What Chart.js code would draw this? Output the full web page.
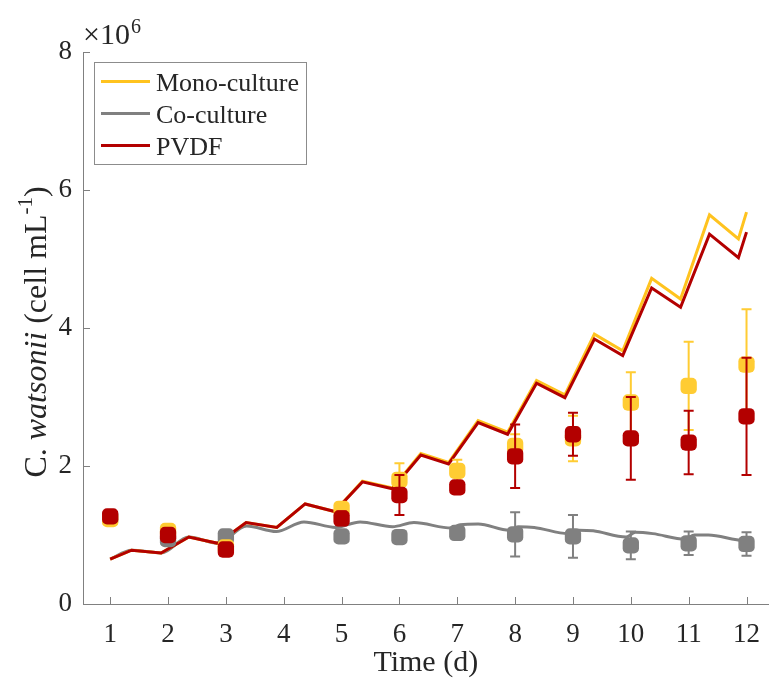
<!DOCTYPE html>
<html>
<head>
<meta charset="utf-8">
<script src="https://cdn.jsdelivr.net/npm/chart.js@4.4.0/dist/chart.umd.min.js"></script>
<style>
  html, body { margin: 0; padding: 0; background: #fff; }
  #wrap { width: 778px; height: 681px; }
</style>
</head>
<body>
<div id="wrap"><canvas id="growthChart" width="778" height="681"></canvas></div>
<script>
// All cell counts in units of 10^6 cell mL-1
const sampleDays = [1, 2, 3, 5, 6, 7, 8, 9, 10, 11, 12];
const monoMean = [1.23, 1.06, 0.82, 1.38, 1.80, 1.93, 2.29, 2.40, 2.92, 3.16, 3.47];
const monoErr  = [0.05, 0.08, 0.05, 0.06, 0.24, 0.16, 0.17, 0.33, 0.44, 0.64, 0.80];
const coMean   = [1.25, 0.94, 0.98, 0.98, 0.97, 1.03, 1.01, 0.98, 0.85, 0.88, 0.87];
const coErr    = [0.03, 0.04, 0.05, 0.05, 0.05, 0.06, 0.32, 0.31, 0.20, 0.17, 0.17];
const pvdfMean = [1.27, 1.00, 0.79, 1.24, 1.58, 1.69, 2.14, 2.46, 2.40, 2.34, 2.72];
const pvdfErr  = [0.04, 0.06, 0.05, 0.10, 0.29, 0.08, 0.46, 0.31, 0.60, 0.46, 0.85];

// model curves (sawtooth from daily dilution)
const modelTime = [1, 1.37, 1.88, 2.36, 2.86, 3.35, 3.88, 4.37, 4.88, 5.36, 5.88, 6.37,
                   6.85, 7.36, 7.87, 8.37, 8.86, 9.37, 9.86, 10.36, 10.86, 11.36, 11.86, 12.0];
const monoModel = [0.65, 0.78, 0.74, 0.97, 0.88, 1.18, 1.11, 1.45, 1.34, 1.78, 1.68, 2.18,
                   2.05, 2.66, 2.49, 3.24, 3.03, 3.91, 3.67, 4.72, 4.42, 5.64, 5.29, 5.68];
const pvdfModel = [0.65, 0.78, 0.74, 0.97, 0.88, 1.18, 1.11, 1.45, 1.34, 1.77, 1.67, 2.16,
                   2.03, 2.63, 2.46, 3.20, 2.99, 3.84, 3.60, 4.58, 4.30, 5.36, 5.02, 5.39];
const coTime  = [1, 1.37, 1.88, 2.36, 2.86, 3.36, 3.87, 4.35, 4.9, 5.32, 5.88, 6.25, 6.9, 7.05,
                 7.36, 7.9, 8.05, 8.33, 8.92, 9.1, 9.35, 9.92, 10.08, 10.38, 10.94, 11.1, 11.34, 11.96, 12.0];
const coModel = [0.65, 0.78, 0.74, 0.97, 0.88, 1.13, 1.05, 1.19, 1.11, 1.19, 1.12, 1.18, 1.10, 1.15,
                 1.16, 1.07, 1.12, 1.11, 1.02, 1.07, 1.06, 0.97, 1.04, 1.02, 0.94, 1.00, 1.00, 0.92, 0.93];

const xTicks = [1, 2, 3, 4, 5, 6, 7, 8, 9, 10, 11, 12];
const yTicks = [0, 2, 4, 6, 8];

const serif = "'Liberation Serif', 'Times New Roman', serif";
const yellow = '#FFC31F';
const yellowMark = '#FFCC33';
const grey = '#808080';
const red = '#B30000';
const axisColor = '#808080';
const textColor = '#262626';

Chart.defaults.font.family = serif;
Chart.defaults.color = textColor;

const toXY = (xs, ys) => xs.map((x, i) => ({ x: x, y: ys[i] }));

function lineSet(label, xs, ys, color, order, smooth) {
    return {
        label: label,
        data: toXY(xs, ys),
        showLine: true,
        borderColor: color,
        backgroundColor: color,
        borderWidth: 3,
        pointRadius: 0,
        tension: 0,
        cubicInterpolationMode: smooth ? 'monotone' : 'default',
        order: order,
        inLegend: true
    };
}

function markerSet(label, ys, errs, color, order) {
    return {
        label: label,
        data: toXY(sampleDays, ys),
        errors: errs,
        showLine: false,
        pointStyle: 'rectRounded',
        pointRadius: 9.5,
        pointBorderWidth: 0,
        backgroundColor: color,
        borderColor: color,
        order: order
    };
}

// error bars under each marker set
const errorBars = {
    id: 'errorBars',
    beforeDatasetDraw(chart, args) {
        const ds = chart.data.datasets[args.index];
        if (!ds.errors) return;
        const { ctx, scales: { x, y } } = chart;
        ctx.save();
        ctx.strokeStyle = ds.borderColor;
        ctx.lineWidth = 2;
        ds.data.forEach((p, i) => {
            const e = ds.errors[i];
            const px = x.getPixelForValue(p.x);
            const top = y.getPixelForValue(p.y + e);
            const bot = y.getPixelForValue(p.y - e);
            ctx.beginPath();
            ctx.moveTo(px, top); ctx.lineTo(px, bot);
            ctx.moveTo(px - 5, top); ctx.lineTo(px + 5, top);
            ctx.moveTo(px - 5, bot); ctx.lineTo(px + 5, bot);
            ctx.stroke();
        });
        ctx.restore();
    }
};

// inward tick marks, exponent label, y title and legend box
const decorations = {
    id: 'decorations',
    afterDraw(chart) {
        const { ctx, chartArea: a, scales: { x, y } } = chart;
        ctx.save();
        ctx.strokeStyle = axisColor;
        ctx.lineWidth = 1;
        ctx.beginPath();
        xTicks.forEach(v => {
            const px = Math.round(x.getPixelForValue(v)) + 0.5;
            ctx.moveTo(px, a.bottom); ctx.lineTo(px, a.bottom - 7);
        });
        yTicks.forEach(v => {
            const py = Math.round(y.getPixelForValue(v)) + 0.5;
            ctx.moveTo(a.left, py); ctx.lineTo(a.left + 7, py);
        });
        ctx.stroke();

        // x10^6
        ctx.fillStyle = textColor;
        ctx.textBaseline = 'alphabetic';
        ctx.textAlign = 'left';
        ctx.font = '30px ' + serif;
        ctx.fillText('\u00d710', 83, 44);
        const w10 = ctx.measureText('\u00d710').width;
        ctx.font = '20px ' + serif;
        ctx.fillText('6', 83 + w10 + 1, 33);

        // y axis title with italic species name
        const parts = [
            { t: 'C. ', f: '32px ' + serif, dy: 0 },
            { t: 'watsonii', f: 'italic 32px ' + serif, dy: 0 },
            { t: ' (cell mL', f: '32px ' + serif, dy: 0 },
            { t: '-1', f: '21px ' + serif, dy: -14 },
            { t: ')', f: '32px ' + serif, dy: 0 }
        ];
        let total = 0;
        parts.forEach(p => { ctx.font = p.f; p.w = ctx.measureText(p.t).width; total += p.w; });
        ctx.translate(46, 332);
        ctx.rotate(-Math.PI / 2);
        let cx = -total / 2;
        parts.forEach(p => {
            ctx.font = p.f;
            ctx.fillText(p.t, cx, p.dy);
            cx += p.w;
        });
        ctx.setTransform(1, 0, 0, 1, 0, 0);

        // legend
        ctx.fillStyle = '#fff';
        ctx.fillRect(94.5, 62.5, 212, 102);
        ctx.strokeStyle = '#8c8c8c';
        ctx.strokeRect(94.5, 62.5, 212, 102);
        const items = chart.data.datasets.filter(d => d.inLegend);
        ctx.font = '26px ' + serif;
        ctx.fillStyle = textColor;
        items.forEach((d, i) => {
            const rowY = 81.5 + i * 32;
            ctx.strokeStyle = d.borderColor;
            ctx.lineWidth = 3;
            ctx.beginPath();
            ctx.moveTo(101, rowY); ctx.lineTo(150, rowY);
            ctx.stroke();
            ctx.fillText(d.label, 156, rowY + 9);
        });
        ctx.restore();
    }
};

const ctxGrowth = document.getElementById('growthChart').getContext('2d');

new Chart(ctxGrowth, {
    type: 'scatter',
    data: {
        datasets: [
            // legend order: mono, co, pvdf; lower "order" sits on top
            lineSet('Mono-culture', modelTime, monoModel, yellow, 4, false),
            lineSet('Co-culture', coTime, coModel, grey, 5, true),
            lineSet('PVDF', modelTime, pvdfModel, red, 3, false),
            markerSet('Mono-culture data', monoMean, monoErr, yellowMark, 1),
            markerSet('Co-culture data', coMean, coErr, grey, 2),
            markerSet('PVDF data', pvdfMean, pvdfErr, red, 0)
        ]
    },
    options: {
        responsive: false,
        devicePixelRatio: 1,
        animation: false,
        events: [],
        layout: { padding: { top: 52, left: 0, right: 0, bottom: 0 } },
        plugins: {
            legend: { display: false },
            tooltip: { enabled: false }
        },
        scales: {
            x: {
                type: 'linear',
                min: 0.53,
                max: 12.38,
                afterFit: s => { s.height = 77; },
                afterBuildTicks: s => { s.ticks = xTicks.map(v => ({ value: v })); },
                grid: { display: false, drawTicks: false },
                border: { display: true, color: axisColor, width: 1 },
                ticks: { font: { size: 27 }, color: textColor, padding: 15, maxRotation: 0 },
                title: { display: true, text: 'Time (d)', font: { size: 30 }, color: textColor, padding: { top: 0, bottom: 0 } }
            },
            y: {
                min: 0,
                max: 8,
                afterFit: s => { s.width = 83; },
                afterBuildTicks: s => { s.ticks = yTicks.map(v => ({ value: v })); },
                grid: { display: false, drawTicks: false },
                border: { display: true, color: axisColor, width: 1 },
                ticks: { font: { size: 27 }, color: textColor, padding: 11 }
            }
        }
    },
    plugins: [errorBars, decorations]
});
</script>
</body>
</html>
